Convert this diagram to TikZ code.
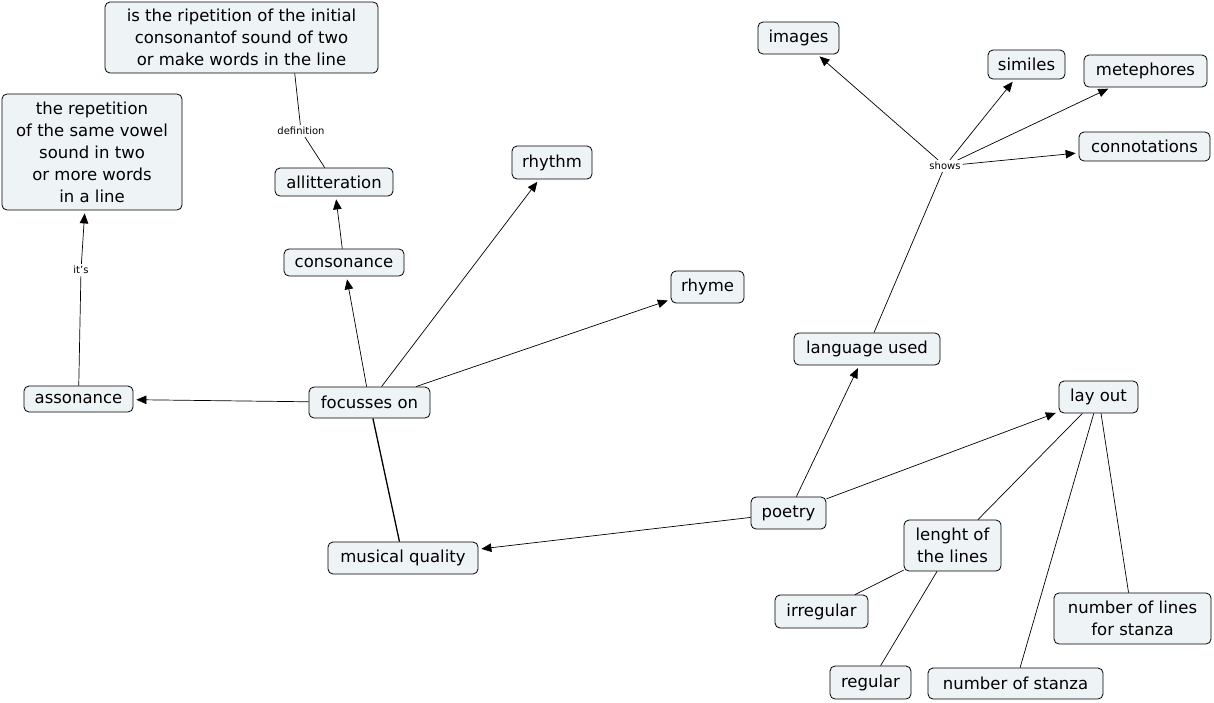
\documentclass[tikz,border=0pt]{standalone}
\usepackage{fontspec}
\setmainfont{DejaVu Sans}
\usetikzlibrary{arrows.meta}
\definecolor{boxfill}{HTML}{EEF3F6}
\tikzset{
  box/.style={draw=black, fill=boxfill, rounded corners=5pt, line width=0.8pt,
    align=center, inner sep=0pt, font=\fontsize{16.5}{22}\selectfont},
  lab/.style={inner sep=2pt, font=\fontsize{10}{12}\selectfont},
  arr/.style={-{Triangle[length=10pt,width=8.5pt]}, line width=0.7pt, shorten >=3pt},
  ln/.style={line width=0.7pt}
}
\begin{document}
\begin{tikzpicture}[x=1pt,y=-1pt]
\useasboundingbox (0,0) rectangle (1214,702);
% nodes
\node[box, minimum width=273, minimum height=71] (def) at (241.5,37.5) {is the ripetition of the initial\\consonantof sound of two\\or make words in the line};
\node[box, minimum width=180, minimum height=116] (vowel) at (92,152) {the repetition\\of the same vowel\\sound in two\\or more words\\in a line};
\node[box, minimum width=118, minimum height=28] (allit) at (334,182) {allitteration};
\node[box, minimum width=120, minimum height=27] (conso) at (344,262.5) {consonance};
\node[box, minimum width=80, minimum height=33] (rhythm) at (552,162.5) {rhythm};
\node[box, minimum width=73, minimum height=32] (rhyme) at (707.5,287) {rhyme};
\node[box, minimum width=109, minimum height=26] (asso) at (78.5,399) {assonance};
\node[box, minimum width=121, minimum height=31] (focus) at (369.5,402.5) {focusses on};
\node[box, minimum width=150, minimum height=32] (music) at (403,558) {musical quality};
\node[box, minimum width=75, minimum height=32] (poetry) at (788.5,513) {poetry};
\node[box, minimum width=146, minimum height=32] (lang) at (867,349) {language used};
\node[box, minimum width=81, minimum height=32] (images) at (798.5,38) {images};
\node[box, minimum width=77, minimum height=29] (similes) at (1026.5,64.5) {similes};
\node[box, minimum width=123, minimum height=32] (meta) at (1145.5,71) {metephores};
\node[box, minimum width=131, minimum height=29] (conno) at (1144.5,146.5) {connotations};
\node[box, minimum width=79, minimum height=32] (layout) at (1098.5,397) {lay out};
\node[box, minimum width=97, minimum height=51] (lenght) at (952.5,545.5) {lenght of\\the lines};
\node[box, minimum width=93, minimum height=33] (irreg) at (821.5,611.5) {irregular};
\node[box, minimum width=81, minimum height=33] (reg) at (870.5,682.5) {regular};
\node[box, minimum width=175, minimum height=31] (nstanza) at (1015.5,683.5) {number of stanza};
\node[box, minimum width=157, minimum height=51] (nlines) at (1132.5,618.5) {number of lines\\for stanza};
% labels
\node[lab] (shows) at (945,166) {shows};
\node[lab] (defl) at (301,131) {definition};
\node[lab] (its) at (81,270) {it's};
% connectors
\draw[arr] (focus) -- (asso);
\draw[arr] (focus) -- (conso);
\draw[arr] (focus) -- (rhythm);
\draw[arr] (focus) -- (rhyme);
\draw[line width=1.3pt] (music) -- (focus);
\draw[arr] (poetry) -- (music);
\draw[arr] (poetry) -- (lang);
\draw[arr] (poetry) -- (layout);
\draw[arr] (conso) -- (allit);
\draw[ln] (allit) -- (defl);
\draw[ln] (defl) -- (def.-34.6);
\draw[ln] (asso) -- (its);
\draw[arr] (its) -- (vowel.-97);
\draw[ln] (lang) -- (shows);
\draw[arr] (shows) -- (images);
\draw[arr] (shows) -- (similes);
\draw[arr] (shows) -- (meta);
\draw[arr] (shows) -- (conno);
\draw[ln] (layout) -- (lenght);
\draw[ln] (layout) -- (nstanza);
\draw[ln] (layout) -- (nlines);
\draw[ln] (lenght) -- (irreg);
\draw[ln] (lenght) -- (reg);
\end{tikzpicture}
\end{document}
